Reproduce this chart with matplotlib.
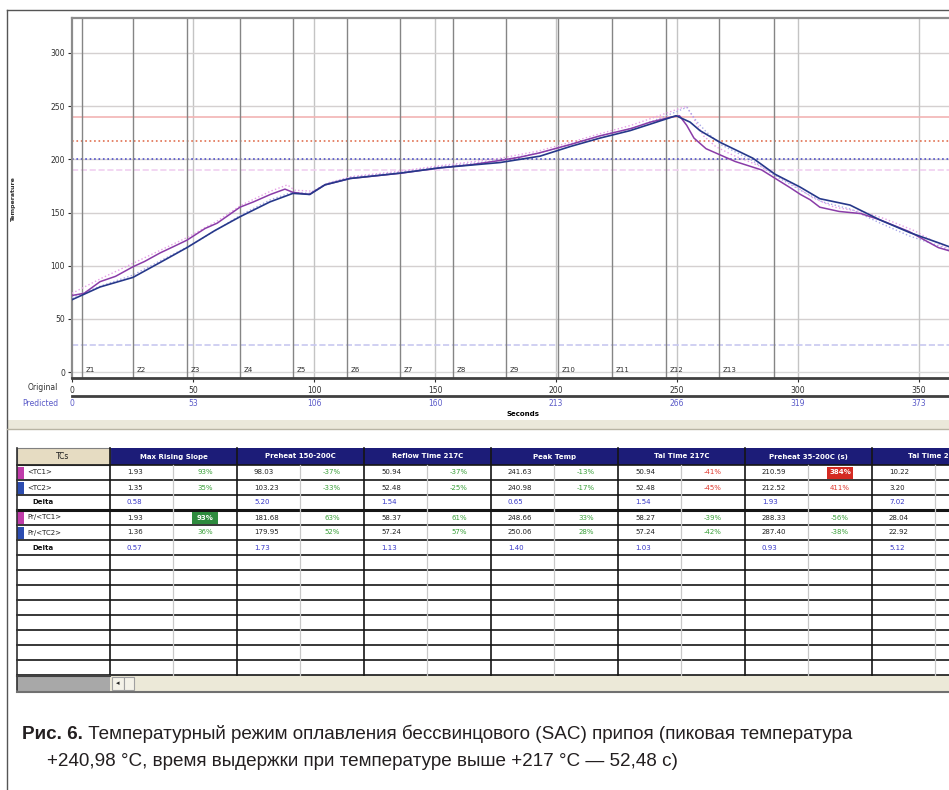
import matplotlib.pyplot as plt
from matplotlib.patches import Rectangle
from matplotlib.transforms import blended_transform_factory

W, H = 949, 790

# thermocouple traces: seconds, degrees C
tc1_time = [0, 5, 11.6, 18, 25.2, 30, 36.4, 42, 47.5, 55, 60, 69.4, 75, 82, 88, 91.3, 98,
            104.5, 115, 136, 152, 165, 177, 185, 193, 206, 218, 231, 239, 248, 251, 254,
            257, 262, 268, 274, 285, 297, 301, 305, 309, 317, 326, 334, 346, 358, 367]
tc1_temp = [72, 74, 85, 90, 99, 104, 112, 118, 124, 135, 140, 155, 160, 167, 172, 169, 167,
            176, 182, 187, 192, 195, 199, 202, 206, 214, 222, 229, 235, 240, 241, 232,
            220, 210, 204, 198, 190, 173, 167, 162, 155, 151, 149, 143, 132, 117, 111]
tc2_time = [0, 11.6, 25.2, 36.4, 47.5, 59, 69.4, 81.8, 91.3, 98.3, 104.5, 114.9, 135.5, 152,
            176.9, 193.4, 205.8, 218.2, 230.6, 238.8, 249.6, 255.4, 259.5, 267.8, 281.4,
            290.5, 300.8, 309, 321.5, 333.9, 346.3, 358.7, 367]
tc2_temp = [68, 80, 89, 103, 117, 133, 146, 160, 168, 167, 176, 182, 187, 192,
            197, 203, 212, 220, 227, 233, 241, 235, 227, 216, 201,
            186, 174, 163, 157, 143, 131, 121, 114]
# predicted traces
pr1_time = [0, 12, 25, 36, 48, 60, 70, 82, 89, 92, 100, 106, 116, 136, 152, 177, 193, 206,
            218, 231, 240, 250, 254, 257, 261, 266, 273, 285, 298, 306, 315, 328, 336,
            348, 360, 367]
pr1_temp = [74, 88, 102, 114, 127, 142, 157, 170, 176, 171, 170, 178, 184, 189, 194, 201,
            208, 216, 224, 232, 239, 247, 250, 238, 222, 212, 204, 193, 176, 164, 155, 150,
            144, 133, 118, 112]
pr2_time = [0, 12, 25, 36, 48, 60, 70, 82, 91, 98, 105, 115, 136, 152, 177, 193, 206, 218,
            231, 240, 250, 254, 258, 262, 268, 281, 291, 301, 310, 322, 334, 346, 359, 367]
pr2_temp = [70, 81, 91, 104, 118, 134, 148, 162, 169, 168, 177, 183, 188, 193, 199, 206,
            214, 222, 229, 236, 245, 249, 236, 226, 214, 199, 184, 171, 160, 153, 140, 128,
            118, 110]

zone_edges = [4, 25, 47.5, 69.5, 91.5, 113.5, 135.5, 157.5, 179.5, 201, 223, 245.5, 267.5, 290]
zone_names = ["Z1", "Z2", "Z3", "Z4", "Z5", "Z6", "Z7", "Z8", "Z9", "Z10", "Z11", "Z12", "Z13"]
sec_ticks = [0, 50, 100, 150, 200, 250, 300, 350]
pred_labels = ["0", "53", "106", "160", "213", "266", "319", "373"]
limit_lines = [(240, "#f2b4b4", "-"), (217, "#e07050", ":"), (200, "#5050c8", ":"),
               (190, "#f0d0f0", "--"), (25, "#c8c8f0", "--")]

row_labels = ["<TC1>", "<TC2>", "Delta", "Pr/<TC1>", "Pr/<TC2>", "Delta"]
row_swatch = ["#c03caa", "#2c4cb0", None, "#c03caa", "#2c4cb0", None]
col_headers = ["Max Rising Slope", "Preheat 150-200C", "Reflow Time 217C", "Peak Temp",
               "Tal Time 217C", "Preheat 35-200C (s)", "Tal Time 230C"]
slope_vals = ["1.93", "1.35", "0.58", "1.93", "1.36", "0.57"]
slope_pct = ["93%", "35%", "", "93%", "36%", ""]
preheat_vals = ["98.03", "103.23", "5.20", "181.68", "179.95", "1.73"]
preheat_pct = ["-37%", "-33%", "", "63%", "52%", ""]
reflow_vals = ["50.94", "52.48", "1.54", "58.37", "57.24", "1.13"]
reflow_pct = ["-37%", "-25%", "", "61%", "57%", ""]
peak_vals = ["241.63", "240.98", "0.65", "248.66", "250.06", "1.40"]
peak_pct = ["-13%", "-17%", "", "33%", "28%", ""]
tal_vals = ["50.94", "52.48", "1.54", "58.27", "57.24", "1.03"]
tal_pct = ["-41%", "-45%", "", "-39%", "-42%", ""]
preheat2_vals = ["210.59", "212.52", "1.93", "288.33", "287.40", "0.93"]
preheat2_pct = ["384%", "411%", "", "-56%", "-38%", ""]
tal2_vals = ["10.22", "3.20", "7.02", "28.04", "22.92", "5.12"]
tal2_pct = ["", "", "", "", "", ""]
red_pct = {(4, 0), (4, 1), (5, 0), (5, 1)}
boxed_pct = {(0, 3): "#2e8b3e", (5, 0): "#d42a22"}

fig = plt.figure(figsize=(W / 100, H / 100), dpi=100)
fig.patch.set_facecolor("white")

# full-page layer in pixel units for frame, table and caption
ov = fig.add_axes([0, 0, 1, 1])
ov.set_xlim(0, W)
ov.set_ylim(H, 0)
ov.axis("off")

ov.plot([7, 7], [10, H], color="#555555", lw=1)
ov.plot([7, W], [10, 10], color="#555555", lw=1)

# chart
ax = fig.add_axes([72 / W, 1 - 378 / H, (965 - 72) / W, 360 / H])
ax.set_xlim(0, 369)
ax.set_ylim(-5.6, 332.9)
for t in range(50, 351, 50):
    ax.axhline(t, color="#d4d0d0", lw=1, zorder=1)
    ax.axvline(t, color="#c4c4c4", lw=1, zorder=1)
ax.axhline(0, color="#d8d8d8", lw=1, zorder=1)
for v, c, ls in limit_lines:
    ax.axhline(v, color=c, lw=1.2, ls=ls, zorder=2)
for z in zone_edges:
    ax.axvline(z, color="#858585", lw=1, zorder=2)
for z, name in zip(zone_edges, zone_names):
    ax.text(z + 1.5, 2, name, fontsize=5, va="center", ha="left", color="#303030")

ax.plot(pr1_time, pr1_temp, color="#e6a0e6", lw=1, ls=":", zorder=3)
ax.plot(pr2_time, pr2_temp, color="#a8a8e8", lw=1, ls=":", zorder=3)
ax.plot(tc1_time, tc1_temp, color="#8a3ca8", lw=1.1, zorder=4)
ax.plot(tc2_time, tc2_temp, color="#26388a", lw=1.2, zorder=5)

for side in ["left", "top"]:
    ax.spines[side].set_color("#8c8c8c")
    ax.spines[side].set_linewidth(1.6)
ax.spines["bottom"].set_color("#404040")
ax.spines["bottom"].set_linewidth(2)
ax.spines["right"].set_visible(False)
ax.set_yticks(range(0, 301, 50))
ax.set_xticks(sec_ticks)
ax.tick_params(labelsize=5.5, length=3, width=0.8, colors="#303030", pad=2)
ax.tick_params(axis="x", pad=3)

trans = blended_transform_factory(ax.transData, ax.transAxes)
for t, lab in zip(sec_ticks, pred_labels):
    ax.text(t, -0.07, lab, transform=trans, fontsize=5.5, ha="center", va="center",
            color="#5a5ac8", clip_on=False)

ov.plot([72, W], [395.5, 395.5], color="#404040", lw=2)
ov.text(58, 388, "Original", fontsize=5.5, ha="right", va="center", color="#303030")
ov.text(58, 403, "Predicted", fontsize=5.5, ha="right", va="center", color="#5a5ac8")
ov.text(523, 414, "Seconds", fontsize=5, ha="center", va="center", fontweight="bold")
ov.text(14, 200, "Temperature", fontsize=4.5, rotation=90, ha="center", va="center",
        fontweight="bold", color="#303030")

# splitter between chart and table
ov.add_patch(Rectangle((7, 420), W, 9, fc="#ebe8da", ec="none"))
ov.plot([7, W], [429, 429], color="#b8b4a4", lw=1)

# results table
cols_vals = [slope_vals, preheat_vals, reflow_vals, peak_vals, tal_vals, preheat2_vals, tal2_vals]
cols_pct = [slope_pct, preheat_pct, reflow_pct, peak_pct, tal_pct, preheat2_pct, tal2_pct]
gx = [110 + 127 * i for i in range(len(col_headers) + 1)]
top, head_h, row_h, n_rows = 448, 17, 15, 14
body_top = top + head_h
body_bot = body_top + row_h * n_rows

ov.add_patch(Rectangle((110, top), W - 110, head_h, fc="#1c1c78", ec="none"))
ov.add_patch(Rectangle((17, top), 93, head_h, fc="#e6dcc2", ec="#808080", lw=0.8))
ov.text(63, top + head_h / 2, "TCs", fontsize=5.5, ha="center", va="center", color="#202020")
for i, h in enumerate(col_headers):
    ov.text(gx[i] + 63.5, top + head_h / 2, h, fontsize=5, ha="center", va="center",
            color="white", fontweight="bold")

for i in range(n_rows + 1):
    y = body_top + row_h * i
    ov.plot([17, W], [y, y], color="#151515", lw=2.2 if i == 3 else 1.2)
ov.plot([17, 17], [top, body_bot + 15], color="#303030", lw=1.2)
for x in gx:
    ov.plot([x, x], [top, body_bot], color="#151515", lw=1.2)
    ov.plot([x + 63, x + 63], [body_top, body_bot], color="#c8c8c8", lw=0.9)

for r, lab in enumerate(row_labels):
    yc = body_top + row_h * r + row_h / 2
    if row_swatch[r]:
        ov.add_patch(Rectangle((17, yc - 6), 7, 12, fc=row_swatch[r], ec="none"))
        ov.text(27, yc, lab, fontsize=5, ha="left", va="center", color="#202020")
    else:
        ov.text(32, yc, lab, fontsize=5, ha="left", va="center", color="#101010",
                fontweight="bold")
    for c in range(len(col_headers)):
        val_color = "#3838c8" if lab == "Delta" else "#202020"
        ov.text(gx[c] + 17, yc, cols_vals[c][r], fontsize=5, ha="left", va="center",
                color=val_color)
        pct = cols_pct[c][r]
        if not pct:
            continue
        if (c, r) in boxed_pct:
            ov.add_patch(Rectangle((gx[c] + 82, yc - 6), 26, 12, fc=boxed_pct[(c, r)],
                                   ec="none", zorder=3))
            ov.text(gx[c] + 95, yc, pct, fontsize=5, ha="center", va="center",
                    color="white", fontweight="bold", zorder=4)
        else:
            pc = "#e03a30" if (c, r) in red_pct else "#3aa03a"
            ov.text(gx[c] + 95, yc, pct, fontsize=5, ha="center", va="center", color=pc)

# scroll bar under the table
ov.add_patch(Rectangle((17, body_bot), W - 17, 17, fc="#ece9d8", ec="none"))
ov.add_patch(Rectangle((17, body_bot), 93, 17, fc="#a8a8a8", ec="none"))
ov.plot([17, 110], [body_bot + 1, body_bot + 1], color="#404040", lw=1.5)
ov.add_patch(Rectangle((112, body_bot + 2), 12, 13, fc="#f4f2e8", ec="#a0a0a0", lw=0.8))
ov.add_patch(Rectangle((124, body_bot + 2), 10, 13, fc="#f4f2e8", ec="#a0a0a0", lw=0.8))
ov.text(118, body_bot + 8.5, "◂", fontsize=5, ha="center", va="center", color="#202020")
ov.plot([17, W], [body_bot + 17, body_bot + 17], color="#707070", lw=1.5)

# caption
cap_font = ["Liberation Sans", "DejaVu Sans"]
cap_size = 13.6
t1 = ov.text(22, 739, "Рис. 6.", fontsize=cap_size, fontweight="bold", family=cap_font,
             color="#231f20", va="baseline")
ov.annotate(" Температурный режим оплавления бессвинцового (SAC) припоя (пиковая температура",
            xy=(1, 0), xycoords=t1, fontsize=cap_size, family=cap_font, color="#231f20",
            va="bottom", ha="left")
ov.text(47, 766, "+240,98 °C, время выдержки при температуре выше +217 °C — 52,48 с)",
        fontsize=cap_size, family=cap_font, color="#231f20", va="baseline")

fig.savefig("out.png", dpi=100)
